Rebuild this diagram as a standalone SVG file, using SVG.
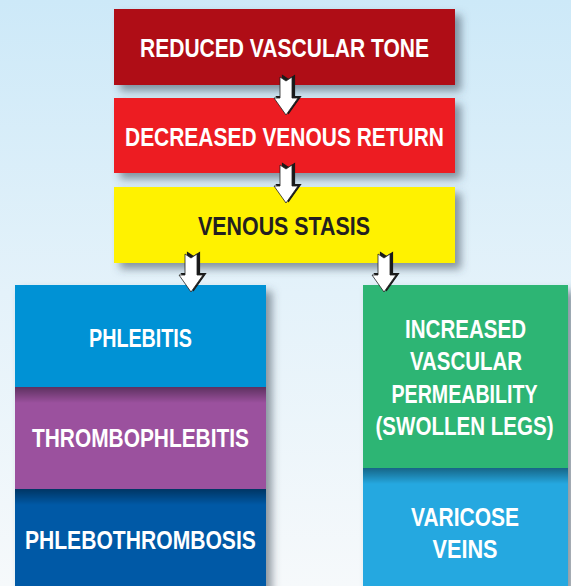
<svg xmlns="http://www.w3.org/2000/svg" width="571" height="586" viewBox="0 0 571 586">
<defs>
<linearGradient id="bg" x1="0" y1="0" x2="0" y2="1">
<stop offset="0" stop-color="#CDE9F8"/>
<stop offset="0.5" stop-color="#E4F2FA"/>
<stop offset="1" stop-color="#F6F9FB"/>
</linearGradient>
<linearGradient id="inner" x1="0" y1="0" x2="0" y2="1">
<stop offset="0" stop-color="#000" stop-opacity="0.4"/>
<stop offset="1" stop-color="#000" stop-opacity="0"/>
</linearGradient>
<filter id="sh" x="-10%" y="-10%" width="130%" height="140%">
<feDropShadow dx="6" dy="6" stdDeviation="4" flood-color="#3a4a55" flood-opacity="0.55"/>
</filter>
<polygon id="arr" points="-6,0 0,4 6,0 6,21 12,21 0,38 -12,21 -6,21"/>
<g id="arrow">
<use href="#arr" transform="translate(2.5,-1.5)" fill="#1a1a1a" stroke="#1a1a1a" stroke-width="1.2"/>
<use href="#arr" fill="#fff" stroke="#222" stroke-width="0.8"/>
</g>
</defs>
<style>
text{font-family:"Liberation Sans",Arial,sans-serif;font-weight:bold;font-size:25px;fill:#fff;text-anchor:middle}
text.dark{fill:#231F20}
</style>
<rect width="571" height="586" fill="url(#bg)"/>

<g id="reduced-vascular-tone">
<rect x="114" y="9" width="341" height="76" fill="#AF0D15" filter="url(#sh)"/>
<text x="284.5" y="57.3" textLength="289" lengthAdjust="spacingAndGlyphs">REDUCED VASCULAR TONE</text>
</g>
<g id="decreased-venous-return">
<rect x="114" y="98" width="341" height="75" fill="#ED1C24" filter="url(#sh)"/>
<text x="284.5" y="145.5" textLength="319" lengthAdjust="spacingAndGlyphs">DECREASED VENOUS RETURN</text>
</g>
<g id="venous-stasis">
<rect x="114" y="187" width="341" height="76" fill="#FFF200" filter="url(#sh)"/>
<text class="dark" x="284" y="235" textLength="172" lengthAdjust="spacingAndGlyphs">VENOUS STASIS</text>
</g>

<g id="left-column-shadow">
<rect x="15" y="285" width="251" height="310" fill="#0092D5" filter="url(#sh)"/>
</g>
<g id="phlebitis">
<rect x="15" y="285" width="251" height="103" fill="#0092D5"/>
<text x="140.5" y="346.5" textLength="103" lengthAdjust="spacingAndGlyphs">PHLEBITIS</text>
</g>
<g id="thrombophlebitis">
<rect x="15" y="387" width="251" height="102" fill="#9B519E"/>
<rect x="15" y="387" width="251" height="16" fill="url(#inner)"/>
<text x="140.5" y="447.3" textLength="217" lengthAdjust="spacingAndGlyphs">THROMBOPHLEBITIS</text>
</g>
<g id="phlebothrombosis">
<rect x="15" y="489" width="251" height="97" fill="#0059A6"/>
<rect x="15" y="489" width="251" height="16" fill="url(#inner)"/>
<text x="140.4" y="549" textLength="231" lengthAdjust="spacingAndGlyphs">PHLEBOTHROMBOSIS</text>
</g>

<g id="right-column-shadow">
<rect x="363" y="285" width="205" height="310" fill="#2DB574" filter="url(#sh)"/>
</g>
<g id="increased-vascular-permeability">
<rect x="363" y="285" width="205" height="183" fill="#2DB574"/>
<text x="465.5" y="337.7" textLength="121" lengthAdjust="spacingAndGlyphs">INCREASED</text>
<text x="466" y="370" textLength="112" lengthAdjust="spacingAndGlyphs">VASCULAR</text>
<text x="464.5" y="402.5" textLength="146" lengthAdjust="spacingAndGlyphs">PERMEABILITY</text>
<text x="464.5" y="434.5" textLength="178" lengthAdjust="spacingAndGlyphs">(SWOLLEN LEGS)</text>
</g>
<g id="varicose-veins">
<rect x="363" y="468" width="205" height="118" fill="#25A8E0"/>
<rect x="363" y="468" width="205" height="16" fill="url(#inner)"/>
<text x="465" y="525.7" textLength="108" lengthAdjust="spacingAndGlyphs">VARICOSE</text>
<text x="465" y="557.7" textLength="65" lengthAdjust="spacingAndGlyphs">VEINS</text>
</g>

<g id="connectors">
<use href="#arrow" transform="translate(286,77)"/>
<use href="#arrow" transform="translate(286,165)"/>
<use href="#arrow" transform="translate(191,254)"/>
<use href="#arrow" transform="translate(384,254)"/>
</g>
</svg>
